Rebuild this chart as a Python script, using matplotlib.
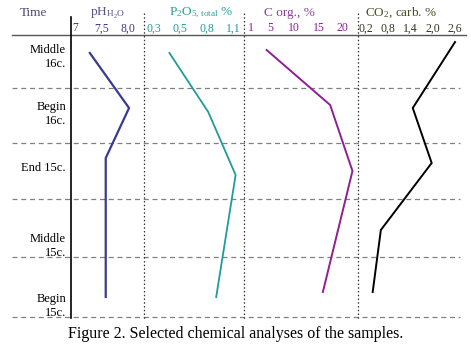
import matplotlib
matplotlib.use("Agg")
import matplotlib.pyplot as plt

plt.rcParams['font.family'] = ['Liberation Serif', 'DejaVu Serif']
plt.rcParams['mathtext.fontset'] = 'custom'
plt.rcParams['mathtext.rm'] = 'Liberation Serif'
plt.rcParams['mathtext.it'] = 'Liberation Serif:italic'

# periodos (etiquetas de la columna "Time")
periods = ['Middle\n16c.', 'Begin\n16c.', 'End 15c.', 'Middle\n15c.', 'Begin\n15c.']

# profundidad relativa de cada muestra (0 = arriba)
ph_depth = [18, 73, 123, 262]
ph_vals = [7.28, 8.02, 7.58, 7.58]

p2o5_depth = [18, 77, 140, 262]
p2o5_vals = [0.38, 0.82, 1.13, 0.91]

corg_depth = [15, 70, 136, 257]
corg_vals = [4.3, 17.4, 22.0, 15.9]

co2_depth = [7, 73, 128, 195, 257]
co2_vals = [2.6, 1.46, 1.97, 0.60, 0.38]

# ticks de cada panel
ph_ticks = [7.0, 7.5, 8.0]
ph_labels = ['7', '7,5', '8,0']
p2o5_ticks = [0.2, 0.5, 0.8, 1.1]
p2o5_labels = ['0,3', '0,5', '0,8', '1,1']
corg_ticks = [1, 5, 10, 15, 20]
corg_labels = ['1', '5', '10', '15', '20']
co2_ticks = [0.2, 0.8, 1.4, 2.0, 2.6]
co2_labels = ['0,2', '0,8', '1,4', '2,0', '2,6']

W, H = 471, 349
TOP, BOT = 35, 318

fig = plt.figure(figsize=(W / 100, H / 100), dpi=100)

# capa de fondo en pixeles para marco, textos y separadores
bg = fig.add_axes([0, 0, 1, 1])
bg.set_xlim(0, W)
bg.set_ylim(H, 0)
bg.axis('off')

def box(x0, x1):
    return [x0 / W, 1 - BOT / H, (x1 - x0) / W, (BOT - TOP) / H]

# separadores horizontales entre periodos
for y in [88, 143, 199, 257, 317]:
    bg.plot([12, 460], [y, y], ls=(0, (4, 3)), color='#808080', lw=0.9)

# separadores verticales punteados
for x in [144, 244, 358]:
    bg.plot([x, x], [13, 319], ls=(0, (1.2, 1.8)), color='#333333', lw=0.9)

bg.plot([12, 466], [TOP, TOP], color='#555555', lw=1.0)
bg.plot([71, 71], [17, 318], color='black', lw=1.2)

# cabeceras
bg.text(33, 13, 'Time', ha='center', va='center', fontsize=9.5, color='#4a4a7a')
bg.text(107, 13, r'pH$_{\mathrm{H_2O}}$', ha='center', va='center', fontsize=9.5, color='#55558a')
bg.text(201, 13, r'P$_2$O$_{5,\,\mathrm{total}}$ %', ha='center', va='center', fontsize=9.5, color='#2a9f9b')
bg.text(289, 13, 'C org., %', ha='center', va='center', fontsize=9.5, color='#8b3c9a')
bg.text(401, 13, r'CO$_2$, carb. %', ha='center', va='center', fontsize=9.5, color='#4d4d20')

# etiquetas de periodo
period_y = [57, 114, 168, 246, 306]
for lab, y in zip(periods, period_y):
    bg.text(66, y, lab, ha='right', va='center', fontsize=9, linespacing=1.25)

bg.text(236, 334, 'Figure 2. Selected chemical analyses of the samples.',
         ha='center', va='center', fontsize=11.5)

panels = [
    (70, 144, (6.906, 8.302), ph_depth, ph_vals, ph_ticks, ph_labels, '#3a3a96', '#3a3a80', 1.6),
    (144, 244, (0.092, 1.225), p2o5_depth, p2o5_vals, p2o5_ticks, p2o5_labels, '#1f9c9a', '#1f9c9a', 1.3),
    (244, 358, (-0.36, 23.14), corg_depth, corg_vals, corg_ticks, corg_labels, '#8e1e96', '#8e1e96', 1.4),
    (358, 466, (-0.016, 2.895), co2_depth, co2_vals, co2_ticks, co2_labels, 'black', '#333320', 1.4),
]

for x0, x1, xl, dep, vals, ticks, labels, col, tcol, lw in panels:
    ax = fig.add_axes(box(x0, x1))
    ax.patch.set_alpha(0)
    ax.plot(vals, dep, color=col, lw=lw, solid_joinstyle='miter')
    ax.set_xlim(*xl)
    ax.set_ylim(BOT - TOP, 0)
    ax.xaxis.tick_top()
    ax.set_xticks(ticks)
    ax.set_xticklabels(labels)
    ax.tick_params(axis='x', length=0, pad=0.5, labelsize=8.5, labelcolor=tcol)
    ax.set_yticks([])
    for s in ax.spines.values():
        s.set_visible(False)

fig.savefig('out.png', dpi=100)
